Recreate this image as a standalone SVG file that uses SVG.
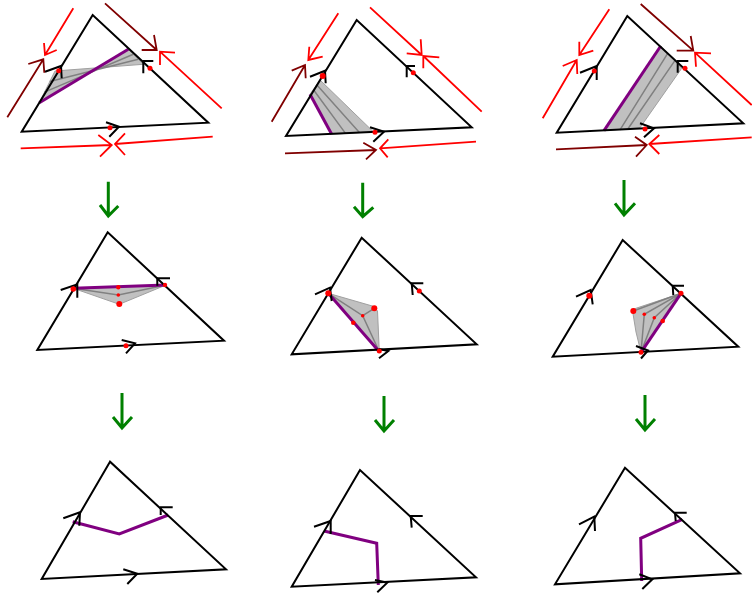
<svg xmlns="http://www.w3.org/2000/svg" width="752" height="596" viewBox="0 0 752 596">
<style>
.tri{fill:none;stroke:#000;stroke-width:2;stroke-linejoin:miter}
.chev{fill:none;stroke:#000;stroke-width:2}
.r{fill:none;stroke:#ff0000;stroke-width:1.8}
.d{fill:none;stroke:#800000;stroke-width:1.8}
.g{fill:none;stroke:#008000;stroke-width:3}
.p{fill:none;stroke:#800080;stroke-width:3}
.sh{fill:#c0c0c0;stroke:#a0a0a0;stroke-width:1}
.in{fill:none;stroke:#808080;stroke-width:1.5}
.dot{fill:#ff0000}
</style>
<rect width="752" height="596" fill="#fff"/>

<g id="panel1">
<path class="sh" d="M39.3,102.7 L55,71 L143.3,64.3 L128.3,49.3 Z"/>
<path class="in" d="M44.5,92.1 L133.3,54.3 M49.8,81.5 L138.3,59.3"/>
<path class="p" d="M39.3,102.7 L128.3,49.3"/>
<path class="tri" d="M92.7,15 L21.7,131.7 L208.3,122.7 Z"/>
<path class="chev" d="M45,71.7 L61,66 L61.7,78.3 M153.3,61 L143.3,61 L143.3,73.3 M106,122.3 L119,126.7 L109.3,136.7"/>
<circle class="dot" cx="58.7" cy="70.7" r="2.5"/><circle class="dot" cx="150" cy="68.3" r="2.5"/><circle class="dot" cx="110" cy="127.7" r="2.5"/>
<path class="r" d="M73.3,8.3 L45,55 M44,43 L45,55 L56.7,50"/>
<path class="d" d="M7.3,117.3 L43.3,59.3 M28.3,64 L43.3,59.3 L44.3,72.7"/>
<path class="d" d="M105,3.3 L156.7,50 M141.7,50 L156.7,50 L154,35"/>
<path class="r" d="M221.7,108.3 L160,51.7 M175,52.7 L160,51.7 L160,65"/>
<path class="r" d="M20.7,148.3 L111.7,145 M98.3,135 L111.7,145 L100,156.7"/>
<path class="r" d="M212.7,136.7 L115,144 M125,133.3 L115,144 L125,155"/>
</g>

<g id="panel2">
<path class="sh" d="M310,94.3 L320,80 L373.3,131.7 L331.7,134.3 Z"/>
<path class="in" d="M313.3,89.5 L345.5,133.4 M316.7,84.8 L359.4,132.6"/>
<path class="p" d="M310,94.3 L331.7,134.3"/>
<path class="tri" d="M356.7,20 L286,136 L471.7,127.3 Z"/>
<path class="chev" d="M310,76.7 L325,70.7 L325.7,83.3 M415,66 L406.7,66 L406.7,77.3 M370,127.3 L384,131.7 L373.3,141.7"/>
<circle class="dot" cx="322.7" cy="76" r="3"/><circle class="dot" cx="413.3" cy="72.7" r="2.5"/><circle class="dot" cx="375" cy="132.3" r="2.5"/>
<path class="r" d="M338.3,13.3 L308.3,60 M309.3,46.7 L308.3,60 L322.7,56.7"/>
<path class="d" d="M271.7,121.7 L305,65 M291.7,70.7 L305,65 L305.7,78.3"/>
<path class="r" d="M370,7.3 L421.7,55 M406.7,53.3 L421.7,55 L420.7,39.3"/>
<path class="r" d="M481.7,111.7 L423.3,56 M439.3,57.3 L423.3,56 L423.3,68.3"/>
<path class="d" d="M285,153.3 L376,150 M363.3,142.7 L376,150 L366,159.3"/>
<path class="r" d="M476,141.7 L380,148.3 M388.3,139.3 L380,148.3 L387.7,157.3"/>
</g>

<g id="panel3">
<path class="sh" d="M604,130.7 L660.7,46 L681.7,68.3 L640,127.7 Z"/>
<path class="in" d="M620,129.8 L667.7,53.4 M628,128.8 L674.7,60.9"/>
<path class="p" d="M604,130.7 L660.7,46"/>
<path class="tri" d="M627.3,16 L556.7,132.7 L743.3,123.3 Z"/>
<path class="chev" d="M580,72.7 L596.7,66 L596.7,80 M688.3,61 L677.7,61 L677.7,72.7 M640,123.3 L654,128.3 L644,137.3"/>
<circle class="dot" cx="594.3" cy="71" r="2.5"/><circle class="dot" cx="685" cy="68.3" r="2.5"/><circle class="dot" cx="645" cy="129" r="2.5"/>
<path class="r" d="M609.3,9.3 L579.3,55 M579.3,41.7 L579.3,55 L593.3,50.7"/>
<path class="r" d="M542.7,118.3 L576.7,60 M562.7,66 L576.7,60 L577.3,74"/>
<path class="d" d="M640.7,4 L693.3,50.7 M676.7,50.7 L693.3,50.7 L690.7,36"/>
<path class="r" d="M751.7,105 L695,52.7 M711,53.3 L695,52.7 L696,66.7"/>
<path class="d" d="M556,149.3 L646.7,145 M635,136.7 L646.7,145 L636,156.7"/>
<path class="r" d="M751.7,137.3 L649.3,144 M659.3,135 L649.3,144 L659.3,154"/>
</g>

<g id="panel4">
<path class="sh" d="M73.3,288.3 L166,285 L119.3,304.3 Z"/>
<path class="in" d="M73.3,288.3 L118.3,295 L166,285"/>
<path class="p" d="M73.3,288.3 L166,285"/>
<path class="tri" d="M107.7,232.3 L37.3,350 L224,340.7 Z"/>
<path class="chev" d="M60.7,290 L77.3,284.3 L77.3,297.7 M170,278.3 L157.3,278.3 L157.3,285.7 M121.7,340 L135,343.3 L126,353.3"/>
<circle class="dot" cx="73.3" cy="289" r="2.8"/><circle class="dot" cx="165" cy="285" r="2.2"/><circle class="dot" cx="118.3" cy="287.3" r="2.2"/><circle class="dot" cx="118.3" cy="295" r="1.8"/><circle class="dot" cx="119.3" cy="304" r="3"/><circle class="dot" cx="126" cy="345.7" r="2.5"/>
</g>

<g id="panel5">
<path class="sh" d="M328.3,293.3 L373.3,306.3 L377.5,311 L379.3,351.7 Z"/>
<path class="in" d="M328.3,293.3 L362.7,315.7 L379.3,351.7 M374.3,308.3 L362.7,315.7"/>
<path class="p" d="M328.3,293.3 L379.3,351.7"/>
<path class="tri" d="M361.7,237.7 L291.7,354.3 L476.7,344.3 Z"/>
<path class="chev" d="M315,294.3 L330,287.7 L331.7,301 M423.3,283.3 L411.7,283.3 L412.7,295 M379,349 L388.3,351 L379,358.3"/>
<circle class="dot" cx="328.3" cy="293.3" r="3"/><circle class="dot" cx="419.3" cy="291" r="2.5"/><circle class="dot" cx="374.3" cy="308.3" r="3"/><circle class="dot" cx="362.7" cy="315.7" r="1.8"/><circle class="dot" cx="353.3" cy="322.7" r="2.3"/><circle class="dot" cx="379.3" cy="351" r="2.5"/>
</g>

<g id="panel6">
<path class="sh" d="M681,293.3 L632.3,309.5 L636,332 L641,352.3 Z"/>
<path class="in" d="M681,293.3 L644.3,314.3 L641,352.3 M681,293.3 L654.3,317.7 L641,352.3 M681,293.3 L633.3,311"/>
<path class="p" d="M681,293.3 L641,352.3"/>
<path class="tri" d="M622.7,240 L552.7,356.7 L738.3,346.7 Z"/>
<path class="chev" d="M576,296.7 L590.7,290 L592.7,304.3 M684,285.7 L672.7,285.7 L673.3,295 M636,346 L648,350.5 L641,358.5"/>
<circle class="dot" cx="589.3" cy="295.7" r="3"/><circle class="dot" cx="681" cy="293.3" r="2.5"/><circle class="dot" cx="633.3" cy="311" r="3"/><circle class="dot" cx="644.3" cy="314.3" r="1.8"/><circle class="dot" cx="654.3" cy="317.7" r="1.8"/><circle class="dot" cx="662.7" cy="321" r="2.3"/><circle class="dot" cx="641" cy="352.3" r="2.5"/>
</g>

<g id="panel7">
<path class="p" d="M72.7,521.7 L119.3,534 L168.3,515"/>
<path class="tri" d="M110,461.7 L41.7,579 L226,569.3 Z"/>
<path class="chev" d="M63.3,518.3 L80,512.3 L79.3,525.7 M172.7,507.3 L160.7,507.3 L160.7,515 M123.3,569.3 L137.3,573.7 L127.3,584"/>
</g>

<g id="panel8">
<path class="p" d="M324,531 L376.7,543.3 L378.3,585"/>
<path class="tri" d="M360,470 L291.7,586.7 L476,577.3 Z"/>
<path class="chev" d="M314,526.7 L330.7,521 L330.7,534 M422.7,516 L410.7,516 L411.7,527.7 M375,580 L387.3,582.7 L377.3,592.3"/>
</g>

<g id="panel9">
<path class="p" d="M682.3,519.3 L640.7,538.3 L641.7,581"/>
<path class="tri" d="M625,467.7 L555,584.3 L740,573.3 Z"/>
<path class="chev" d="M579,524.3 L594.3,516.7 L595,531 M686.7,512.7 L675,512.7 L675.7,521 M639.3,574.3 L652.3,579.3 L642.3,589"/>
</g>

<g id="connectors">
<path class="g" d="M108.3,181.7 L108.3,216 M100,205 L108.3,216 L118.3,206"/>
<path class="g" d="M362.7,182.7 L362.7,216.7 M354,206.7 L362.7,216.7 L373.3,207.3"/>
<path class="g" d="M624,180 L624,215 M615,203.3 L624,215 L635,203.3"/>
<path class="g" d="M122,393 L122,428 M113,417 L122,428 L132,417"/>
<path class="g" d="M384,396 L384,431 M375,420 L384,431 L394,420"/>
<path class="g" d="M645,395 L645,430 M636,419 L645,430 L655,419"/>
</g>
</svg>
